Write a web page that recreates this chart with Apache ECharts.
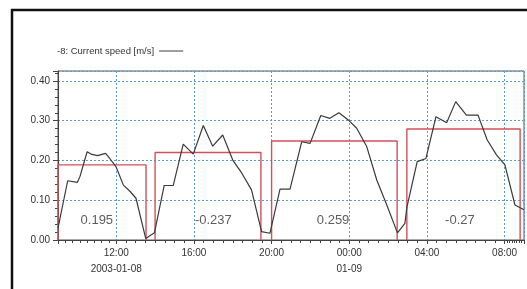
<!DOCTYPE html>
<html>
<head>
<meta charset="utf-8">
<script src="https://cdn.jsdelivr.net/npm/echarts@6/dist/echarts.min.js"></script>
<style>
  html, body { margin: 0; padding: 0; background: #fff; }
  #main { width: 527px; height: 289px; }
</style>
</head>
<body>
<div id="main"></div>
<script>
var myChart = echarts.init(document.getElementById('main'));

// current speed trace
var speedTimes = [
  '2003-01-08 09:00', '2003-01-08 09:30', '2003-01-08 10:00', '2003-01-08 10:08',
  '2003-01-08 10:30', '2003-01-08 10:42', '2003-01-08 11:02', '2003-01-08 11:27',
  '2003-01-08 11:40', '2003-01-08 12:00', '2003-01-08 12:22', '2003-01-08 12:43',
  '2003-01-08 13:01', '2003-01-08 13:31', '2003-01-08 13:58', '2003-01-08 14:28',
  '2003-01-08 14:56', '2003-01-08 15:27', '2003-01-08 15:58', '2003-01-08 16:29',
  '2003-01-08 16:58', '2003-01-08 17:29', '2003-01-08 18:00', '2003-01-08 18:28',
  '2003-01-08 18:58', '2003-01-08 19:29', '2003-01-08 19:55', '2003-01-08 20:26',
  '2003-01-08 20:57', '2003-01-08 21:33', '2003-01-08 21:59', '2003-01-08 22:32',
  '2003-01-08 23:00', '2003-01-08 23:28', '2003-01-08 23:57', '2003-01-09 00:23',
  '2003-01-09 00:54', '2003-01-09 01:25', '2003-01-09 01:56', '2003-01-09 02:29',
  '2003-01-09 02:52', '2003-01-09 02:58', '2003-01-09 03:30', '2003-01-09 03:57',
  '2003-01-09 04:28', '2003-01-09 05:01', '2003-01-09 05:29', '2003-01-09 06:02',
  '2003-01-09 06:38', '2003-01-09 07:06', '2003-01-09 07:35', '2003-01-09 08:01',
  '2003-01-09 08:32', '2003-01-09 09:00'
];
var speedValues = [
  0.030, 0.149, 0.145, 0.160,
  0.222, 0.216, 0.212, 0.218,
  0.205, 0.183, 0.138, 0.122,
  0.105, 0.004, 0.018, 0.137,
  0.137, 0.241, 0.216, 0.288,
  0.236, 0.264, 0.201, 0.168,
  0.126, 0.021, 0.017, 0.128,
  0.128, 0.247, 0.243, 0.313,
  0.306, 0.320, 0.302, 0.281,
  0.235, 0.151, 0.088, 0.018,
  0.042, 0.082, 0.197, 0.205,
  0.310, 0.295, 0.348, 0.314,
  0.314, 0.252, 0.214, 0.189,
  0.088, 0.076
];

// tidal phase boxes
var boxStart = ['2003-01-08 09:00', '2003-01-08 14:00', '2003-01-08 20:00', '2003-01-09 02:58'];
var boxEnd = ['2003-01-08 13:32', '2003-01-08 19:27', '2003-01-09 02:28', '2003-01-09 08:48'];
var boxHeight = [0.189, 0.220, 0.249, 0.279];
var boxLabel = ['0.195', '-0.237', '0.259', '-0.27'];
var labelTime = ['2003-01-08 11:00', '2003-01-08 17:00', '2003-01-08 23:10', '2003-01-09 05:42'];
var labelLevel = 0.05;

var yTicks = ['0.00', '0.10', '0.20', '0.30', '0.40'];

function pad(n) { return (n < 10 ? '0' : '') + n; }

var series = [];

series.push({
  name: '-8: Current speed [m/s]',
  type: 'line',
  symbol: 'none',
  z: 5,
  lineStyle: { color: '#3a3a3a', width: 1.2 },
  itemStyle: { color: '#3a3a3a' },
  data: speedTimes.map(function (t, i) { return [t, speedValues[i]]; })
});

boxStart.forEach(function (s, i) {
  series.push({
    name: 'box' + i,
    type: 'line',
    symbol: 'none',
    z: 3,
    lineStyle: { color: '#d24f5c', width: 1.4 },
    data: [[s, 0], [s, boxHeight[i]], [boxEnd[i], boxHeight[i]], [boxEnd[i], 0]]
  });
});

series.push({
  name: 'labels',
  type: 'scatter',
  symbolSize: 0,
  z: 6,
  label: {
    show: true,
    position: 'inside',
    color: '#333',
    fontSize: 13,
    fontFamily: 'Liberation Sans',
    formatter: function (p) { return boxLabel[p.dataIndex]; }
  },
  data: labelTime.map(function (t) { return [t, labelLevel]; })
});

var option = {
  animation: false,
  backgroundColor: '#fff',
  graphic: [{
    type: 'rect',
    shape: { x: 12, y: 10, width: 540, height: 300 },
    style: { fill: 'none', stroke: '#111', lineWidth: 2.5 },
    z: 100
  }],
  legend: {
    left: 52,
    top: 41,
    align: 'right',
    icon: 'rect',
    itemWidth: 24,
    itemHeight: 1,
    itemGap: 6,
    data: ['-8: Current speed [m/s]'],
    textStyle: { fontSize: 9.5, color: '#333', fontFamily: 'Liberation Sans' }
  },
  grid: {
    left: 58,
    right: 3,
    top: 71,
    bottom: 49,
    show: true,
    borderColor: '#555',
    borderWidth: 1
  },
  xAxis: {
    type: 'time',
    min: '2003-01-08 09:00',
    max: '2003-01-09 09:00',
    splitNumber: 5,
    axisLine: { lineStyle: { color: '#444' } },
    axisTick: { show: true, length: 4, lineStyle: { color: '#444' } },
    minorTick: { show: true, splitNumber: 8, length: 3, lineStyle: { color: '#444' } },
    axisLabel: {
      color: '#333',
      fontSize: 10,
      fontFamily: 'Liberation Sans',
      lineHeight: 16,
      margin: 5,
      formatter: function (v) {
        var d = new Date(v);
        var hm = pad(d.getHours()) + ':' + pad(d.getMinutes());
        if (d.getHours() === 12 && d.getDate() === 8) return hm + '\n2003-01-08';
        if (d.getHours() === 0) return hm + '\n' + pad(d.getMonth() + 1) + '-' + pad(d.getDate());
        return hm;
      }
    },
    splitLine: { show: true, lineStyle: { color: '#5a9ec8', type: [2, 2], width: 1 } }
  },
  yAxis: {
    type: 'value',
    min: 0,
    max: 0.425,
    interval: 0.1,
    axisLine: { show: true, lineStyle: { color: '#444' } },
    axisTick: { show: true, length: 5, lineStyle: { color: '#444' } },
    minorTick: { show: true, splitNumber: 5, length: 3, lineStyle: { color: '#444' } },
    axisLabel: {
      color: '#333',
      fontSize: 10,
      fontFamily: 'Liberation Sans',
      margin: 8,
      showMaxLabel: false,
      formatter: function (v) { return yTicks[Math.round(v * 10)] || ''; }
    },
    splitLine: { show: true, lineStyle: { color: '#5a9ec8', type: [2, 2], width: 1 } }
  },
  series: series
};

myChart.setOption(option);
</script>
</body>
</html>
